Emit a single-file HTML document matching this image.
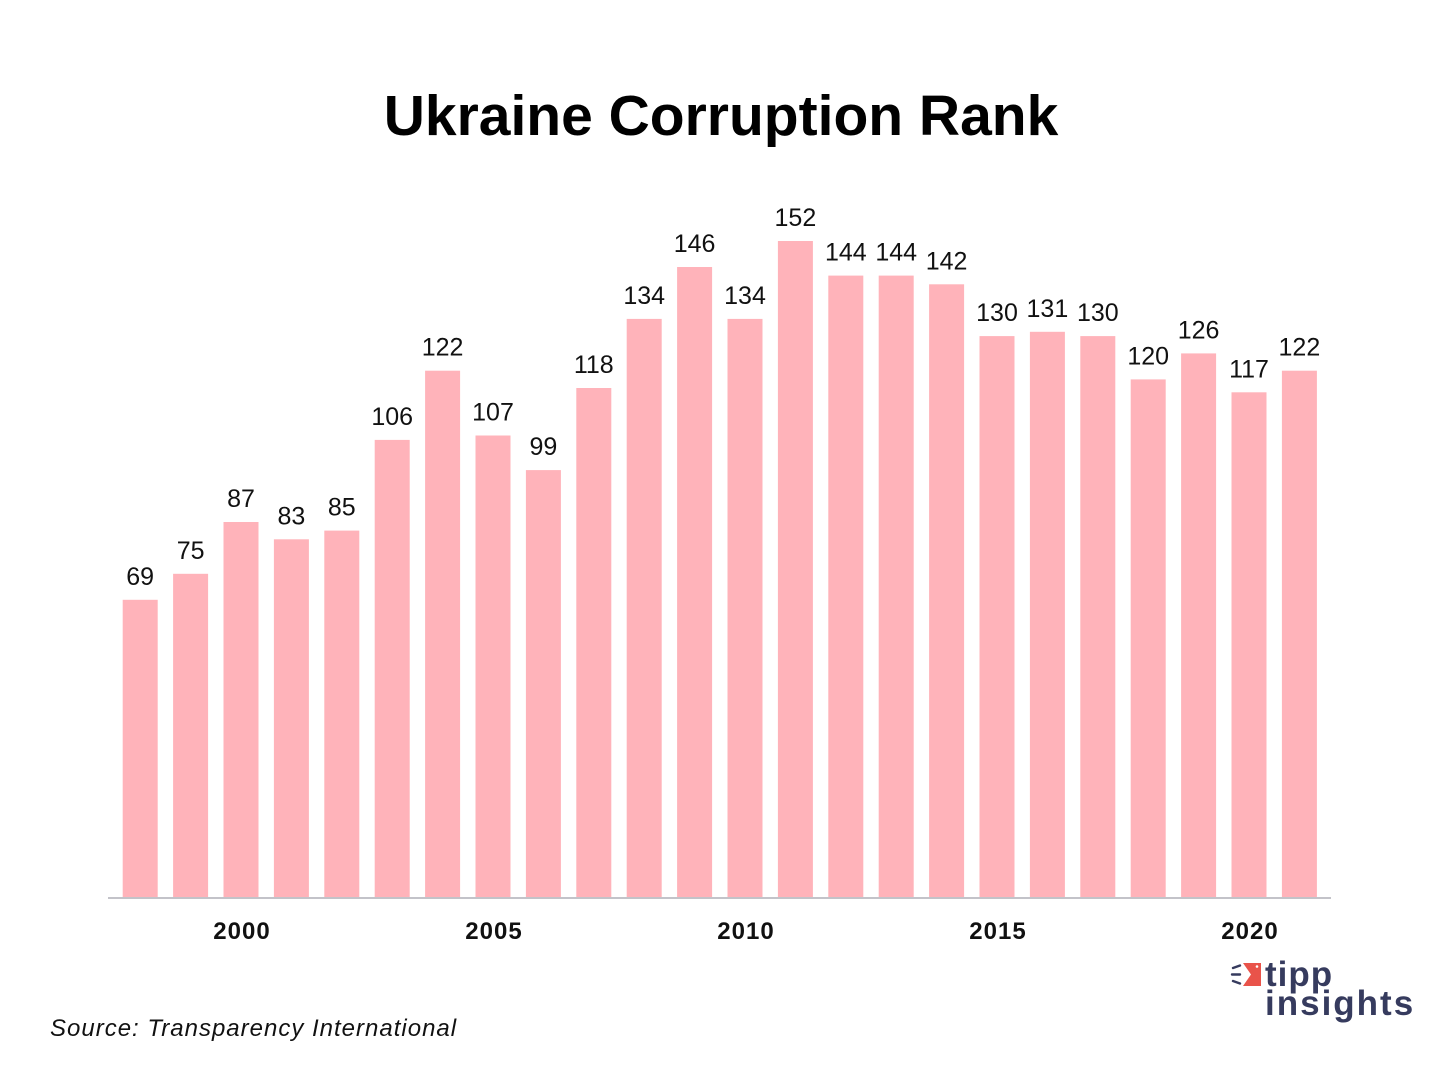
<!DOCTYPE html>
<html>
<head>
<meta charset="utf-8">
<style>
html,body{margin:0;padding:0;background:#fff;}
body{width:1440px;height:1080px;overflow:hidden;}
svg{display:block;}
</style>
</head>
<body>
<svg width="1440" height="1080" viewBox="0 0 1440 1080" xmlns="http://www.w3.org/2000/svg">
<rect width="1440" height="1080" fill="#ffffff"/>
<text x="721" y="135" text-anchor="middle" font-family="Liberation Sans, sans-serif" font-weight="bold" font-size="57" fill="#000">Ukraine Corruption Rank</text>
<g fill="#ffb3ba">
<rect x="122.7" y="599.8" width="35" height="298.2"/>
<rect x="173.1" y="573.8" width="35" height="324.2"/>
<rect x="223.5" y="522.0" width="35" height="376.0"/>
<rect x="273.9" y="539.3" width="35" height="358.7"/>
<rect x="324.3" y="530.6" width="35" height="367.4"/>
<rect x="374.7" y="439.9" width="35" height="458.1"/>
<rect x="425.1" y="370.7" width="35" height="527.3"/>
<rect x="475.5" y="435.5" width="35" height="462.5"/>
<rect x="525.9" y="470.1" width="35" height="427.9"/>
<rect x="576.3" y="388.0" width="35" height="510.0"/>
<rect x="626.7" y="318.9" width="35" height="579.1"/>
<rect x="677.1" y="267.0" width="35" height="631.0"/>
<rect x="727.5" y="318.9" width="35" height="579.1"/>
<rect x="777.9" y="241.0" width="35" height="657.0"/>
<rect x="828.3" y="275.6" width="35" height="622.4"/>
<rect x="878.7" y="275.6" width="35" height="622.4"/>
<rect x="929.1" y="284.3" width="35" height="613.7"/>
<rect x="979.5" y="336.1" width="35" height="561.9"/>
<rect x="1029.9" y="331.8" width="35" height="566.2"/>
<rect x="1080.3" y="336.1" width="35" height="561.9"/>
<rect x="1130.7" y="379.4" width="35" height="518.6"/>
<rect x="1181.1" y="353.4" width="35" height="544.6"/>
<rect x="1231.5" y="392.3" width="35" height="505.7"/>
<rect x="1281.9" y="370.7" width="35" height="527.3"/>
</g>
<g font-family="Liberation Sans, sans-serif" font-size="25" fill="#111" text-anchor="middle">
<text x="140.2" y="584.8">69</text>
<text x="190.6" y="558.8">75</text>
<text x="241.0" y="507.0">87</text>
<text x="291.4" y="524.3">83</text>
<text x="341.8" y="515.6">85</text>
<text x="392.2" y="424.9">106</text>
<text x="442.6" y="355.7">122</text>
<text x="493.0" y="420.5">107</text>
<text x="543.4" y="455.1">99</text>
<text x="593.8" y="373.0">118</text>
<text x="644.2" y="303.9">134</text>
<text x="694.6" y="252.0">146</text>
<text x="745.0" y="303.9">134</text>
<text x="795.4" y="226.0">152</text>
<text x="845.8" y="260.6">144</text>
<text x="896.2" y="260.6">144</text>
<text x="946.6" y="269.3">142</text>
<text x="997.0" y="321.1">130</text>
<text x="1047.4" y="316.8">131</text>
<text x="1097.8" y="321.1">130</text>
<text x="1148.2" y="364.4">120</text>
<text x="1198.6" y="338.4">126</text>
<text x="1249.0" y="377.3">117</text>
<text x="1299.4" y="355.7">122</text>
</g>
<line x1="108" y1="898" x2="1331" y2="898" stroke="#c3c3c9" stroke-width="2"/>
<g font-family="Liberation Sans, sans-serif" font-weight="bold" font-size="24" letter-spacing="1" fill="#111" text-anchor="middle">
<text x="242" y="939">2000</text>
<text x="494" y="939">2005</text>
<text x="746" y="939">2010</text>
<text x="998" y="939">2015</text>
<text x="1250" y="939">2020</text>
</g>
<text x="50" y="1036" font-family="Liberation Sans, sans-serif" font-style="italic" font-size="24" letter-spacing="1" fill="#111">Source: Transparency International</text>
<g>
<polygon points="1243,963 1261,963 1261,986 1243,986 1251,974.5" fill="#e9534a"/>
<circle cx="1257" cy="966.5" r="1.3" fill="#fff"/>
<g stroke="#363b5e" stroke-width="2.4" stroke-linecap="round">
<line x1="1233" y1="968" x2="1240" y2="965.5"/>
<line x1="1232" y1="974.5" x2="1240" y2="974.5"/>
<line x1="1233" y1="981" x2="1240" y2="983.5"/>
</g>
<text x="1265" y="986" font-family="Liberation Sans, sans-serif" font-weight="bold" font-size="35" letter-spacing="1" fill="#363b5e">tipp</text>
<text x="1265" y="1015" font-family="Liberation Sans, sans-serif" font-weight="bold" font-size="35" letter-spacing="2" fill="#363b5e">insights</text>
</g>
</svg>
</body>
</html>
